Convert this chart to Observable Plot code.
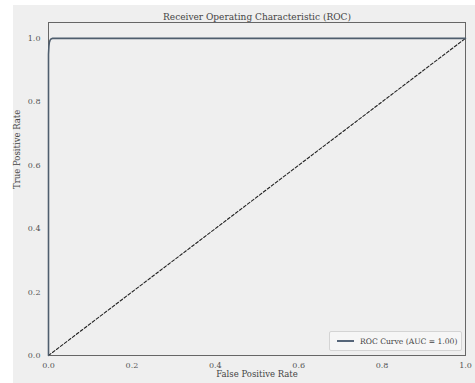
<!DOCTYPE html>
<html>
<head>
<meta charset="utf-8">
<script src="https://cdn.jsdelivr.net/npm/d3@7"></script>
<script src="https://cdn.jsdelivr.net/npm/@observablehq/plot@0.6"></script>
<style>
  html, body { margin: 0; padding: 0; background: #ffffff; }
  #wrap { position: relative; width: 475px; height: 383px; overflow: hidden; }
  #bg { position: absolute; left: 13px; top: 5px; right: 0; bottom: 0; background: #efefef; }
  #chart { position: absolute; left: 0; top: 0; }
  #legend {
    position: absolute; left: 329px; top: 331px; width: 133px; height: 20px;
    background: #f6f6f6; border: 1px solid #d4d4d4; border-radius: 2px; box-sizing: border-box;
    font-family: "DejaVu Serif", serif; font-size: 7.6px; color: #444; white-space: nowrap;
    display: flex; align-items: center;
  }
  #legend .sw { width: 17px; height: 2px; background: #56667a; margin: 0 6px 0 7px; }
</style>
</head>
<body>
<div id="wrap">
  <div id="bg"></div>
  <div id="chart"></div>
  <div id="legend"><span class="sw"></span><span>ROC Curve (AUC = 1.00)</span></div>
</div>
<script>
const title = "Receiver Operating Characteristic (ROC)";
const xLabel = "False Positive Rate";
const yLabel = "True Positive Rate";
const ticks = [0, 0.2, 0.4, 0.6, 0.8, 1.0];

// ROC curve points
const fpr = [0, 0, 0.001, 0.002, 0.004, 0.007, 0.01, 1.0];
const tpr = [0, 0.95, 0.975, 0.987, 0.995, 0.999, 1.0, 1.0];
// chance diagonal
const diagX = [0, 1];
const diagY = [0, 1];

const roc = fpr.map((x, i) => ({x, y: tpr[i]}));
const diag = diagX.map((x, i) => ({x, y: diagY[i]}));

const plot = Plot.plot({
  width: 475,
  height: 383,
  marginLeft: 48,
  marginRight: 10,
  marginTop: 22,
  marginBottom: 28,
  style: { background: "transparent", fontFamily: "DejaVu Serif, serif", fontSize: "8px", color: "#555" },
  x: { domain: [0, 1], ticks, tickFormat: d3.format(".1f"), tickSize: 0, tickPadding: 7, label: null },
  y: { domain: [0, 1.05], ticks, tickFormat: d3.format(".1f"), tickSize: 0, tickPadding: 8, label: null },
  marks: [
    Plot.frame({ fill: "#efefef" }),
    Plot.line(diag, { x: "x", y: "y", stroke: "#222", strokeWidth: 1.1, strokeDasharray: "3,2" }),
    Plot.frame({ stroke: "#666", strokeWidth: 1 }),
    Plot.line(roc, { x: "x", y: "y", stroke: "#4f5e6e", strokeWidth: 1.6, curve: "linear" }),
    Plot.text([title], { frameAnchor: "top", dy: -9, text: d => d, fontSize: 9, fill: "#444" }),
    Plot.text([xLabel], { frameAnchor: "bottom", dy: 21, text: d => d, fontSize: 8.5, fill: "#444" }),
    Plot.text([yLabel], { frameAnchor: "left", dx: -31, rotate: -90, text: d => d, fontSize: 8.5, fill: "#444" })
  ]
});
document.getElementById("chart").appendChild(plot);
</script>
</body>
</html>
